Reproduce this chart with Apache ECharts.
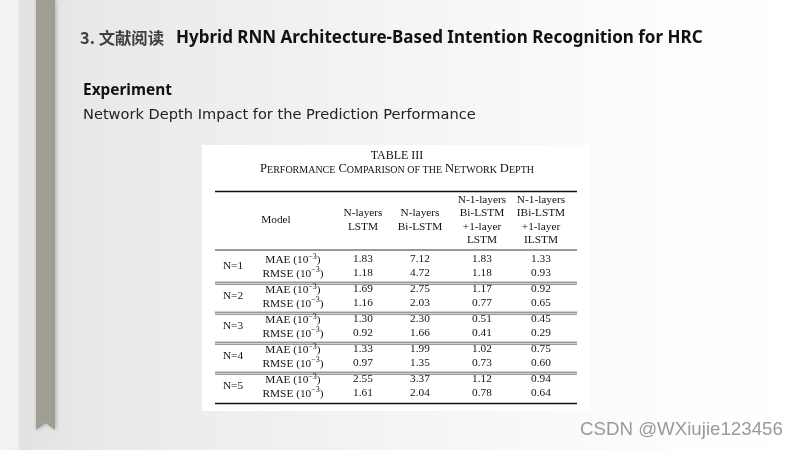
<!DOCTYPE html>
<html>
<head>
<meta charset="utf-8">
<script src="https://cdn.jsdelivr.net/npm/echarts@6/dist/echarts.min.js"></script>
<style>
html,body{margin:0;padding:0;background:#fff;}
#chart{width:800px;height:450px;}
</style>
</head>
<body>
<div id="chart"></div>
<script>
// ---------- data ----------
const groups = ['N=1', 'N=2', 'N=3', 'N=4', 'N=5'];
const metricNames = ['MAE', 'RMSE'];
const modelHeaders = [
  'N-layers\nLSTM',
  'N-layers\nBi-LSTM',
  'N-1-layers\nBi-LSTM\n+1-layer\nLSTM',
  'N-1-layers\nIBi-LSTM\n+1-layer\nILSTM'
];
const maeNLstm        = [1.83, 1.69, 1.30, 1.33, 2.55];
const maeNBiLstm      = [7.12, 2.75, 2.30, 1.99, 3.37];
const maeBiLstmLstm   = [1.83, 1.17, 0.51, 1.02, 1.12];
const maeIBiLstmIlstm = [1.33, 0.92, 0.45, 0.75, 0.94];
const rmseNLstm        = [1.18, 1.16, 0.92, 0.97, 1.61];
const rmseNBiLstm      = [4.72, 2.03, 1.66, 1.35, 2.04];
const rmseBiLstmLstm   = [1.18, 0.77, 0.41, 0.73, 0.78];
const rmseIBiLstmIlstm = [0.93, 0.65, 0.29, 0.60, 0.64];

const slideTitleNum = '3. 文献阅读';
const slideTitle = 'Hybrid RNN Architecture-Based Intention Recognition for HRC';
const sectionTitle = 'Experiment';
const sectionSub = 'Network Depth Impact for the Prediction Performance';
const tableNo = 'TABLE III';
const watermark = 'CSDN @WXiujie123456';

// ---------- layout (table units) ----------
const TW = 362, TH = 212;
const colGroup = 18, colMetric = 78, colModel = 61;
const colValues = [148, 205, 267, 326];
const headerCenter = 29, headerRule = 58.5;
const rowFirst = 68.5, rowStep = 13.2, groupStep = 30;
const FS = 11.3;

const maeCols = [maeNLstm, maeNBiLstm, maeBiLstmLstm, maeIBiLstmIlstm];
const rmseCols = [rmseNLstm, rmseNBiLstm, rmseBiLstmLstm, rmseIBiLstmIlstm];

const SERIF = '"Liberation Serif", "Times New Roman", serif';
const cells = [];
cells.push({x: colModel, y: headerCenter, text: 'Model'});
modelHeaders.forEach((h, i) => cells.push({x: colValues[i], y: headerCenter, text: h, lh: 13.5}));
groups.forEach((g, gi) => {
  const y0 = rowFirst + gi * groupStep;
  cells.push({x: colGroup, y: y0 + rowStep / 2, text: g});
  metricNames.forEach((m, mi) => {
    const y = y0 + mi * rowStep;
    cells.push({x: colMetric, y: y, text: '{n|' + m + ' (10}{sup|\u22123}{n|)}', rich: true});
    const cols = mi === 0 ? maeCols : rmseCols;
    cols.forEach((c, ci) => cells.push({x: colValues[ci], y: y, text: c[gi].toFixed(2)}));
  });
});

const rules = [{y: 0, w: 1.7, c: '#111'}, {y: headerRule, w: 1, c: '#333'}];
for (let gi = 0; gi < groups.length - 1; gi++) {
  const yb = rowFirst + gi * groupStep + rowStep + 9;
  rules.push({y: yb, w: 0.8, c: '#444'});
  rules.push({y: yb + 2, w: 0.8, c: '#444'});
}
rules.push({y: TH, w: 1.7, c: '#111'});

// ---------- font fitting ----------
const cv = document.createElement('canvas').getContext('2d');
function fit(text, weight, family, target) {
  cv.font = weight + ' 100px ' + family;
  return 100 * target / cv.measureText(text).width;
}
const SANS = '"Noto Sans", "Open Sans", sans-serif';
const CJK = '"Noto Sans CJK SC", sans-serif';
const fsTitleNum = fit(slideTitleNum, 'bold', CJK, 84);
const fsTitle = fit(slideTitle, 'bold', SANS, 527);
const fsSection = fit(sectionTitle, 'bold', SANS, 89);
const fsSub = fit(sectionSub, 'normal', '"DejaVu Sans"', 393);
const fsWm = fit(watermark, 'normal', '"Liberation Sans"', 203);

const chart = echarts.init(document.getElementById('chart'), null, {renderer: 'canvas'});

chart.setOption({
  animation: false,
  graphic: [
    {type: 'rect', z: -10, shape: {x: 0, y: 0, width: 800, height: 450},
      style: {fill: new echarts.graphic.LinearGradient(0, 0, 1, 0, [
        {offset: 0, color: '#f4f4f4'}, {offset: 0.022, color: '#f1f1f1'},
        {offset: 0.025, color: '#e2e2e2'}, {offset: 0.12, color: '#e9e9e9'},
        {offset: 0.45, color: '#f3f3f3'}, {offset: 0.8, color: '#fcfcfc'},
        {offset: 1, color: '#ffffff'}])}},
    {type: 'polygon', z: -9, shape: {points: [[36, 0], [55, 0], [55, 430], [45.5, 423], [36, 430]]},
      style: {fill: '#a09d92', shadowBlur: 4, shadowColor: 'rgba(0,0,0,0.25)', shadowOffsetX: 1}},
    {type: 'rect', z: -8, shape: {x: 202, y: 145, width: 388, height: 266}, style: {fill: '#ffffff'}},
    {type: 'text', z: 5, x: 80, y: 38, style: {text: slideTitleNum, fontFamily: CJK, fontWeight: 'bold',
      fontSize: fsTitleNum, fill: '#404040', verticalAlign: 'middle'}},
    {type: 'text', z: 5, x: 176, y: 38, style: {text: slideTitle, fontFamily: SANS, fontWeight: 'bold',
      fontSize: fsTitle, fill: '#111', verticalAlign: 'middle'}},
    {type: 'text', z: 5, x: 83, y: 91, style: {text: sectionTitle, fontFamily: SANS, fontWeight: 'bold',
      fontSize: fsSection, fill: '#111', verticalAlign: 'middle'}},
    {type: 'text', z: 5, x: 83, y: 115, style: {text: sectionSub, fontFamily: '"DejaVu Sans"',
      fontSize: fsSub, fill: '#222', verticalAlign: 'middle'}},
    {type: 'text', z: 5, x: 397, y: 156, style: {text: tableNo, fontFamily: SERIF, fontSize: 12,
      fill: '#111', align: 'center', verticalAlign: 'middle'}},
    {type: 'text', z: 5, x: 397, y: 169, style: {
      text: '{b|P}{s|ERFORMANCE} {b|C}{s|OMPARISON OF THE} {b|N}{s|ETWORK} {b|D}{s|EPTH}',
      fontFamily: SERIF, fill: '#111', align: 'center', verticalAlign: 'middle',
      rich: {b: {fontSize: 12.6, fontFamily: SERIF, verticalAlign: 'bottom', lineHeight: 13, fill: '#111'},
             s: {fontSize: 10, fontFamily: SERIF, verticalAlign: 'bottom', lineHeight: 13, fill: '#111'}}}},
    {type: 'text', z: 5, x: 580, y: 430, style: {text: watermark, fontFamily: '"Liberation Sans"',
      fontSize: fsWm, fill: '#9a9a9a', verticalAlign: 'middle'}}
  ],
  grid: {left: 215, top: 191.5, width: TW, height: TH},
  xAxis: {type: 'value', min: 0, max: TW, show: false},
  yAxis: {type: 'value', min: 0, max: TH, inverse: true, show: false},
  series: [
    {
      type: 'custom',
      data: rules.map(r => [r.y]),
      renderItem: function (params, api) {
        const r = rules[params.dataIndex];
        const a = api.coord([0, api.value(0)]);
        const b = api.coord([TW, api.value(0)]);
        return {type: 'line', shape: {x1: a[0], y1: a[1], x2: b[0], y2: b[1]},
          style: {stroke: r.c, lineWidth: r.w}};
      }
    },
    {
      type: 'custom',
      data: cells.map(c => [c.x, c.y]),
      renderItem: function (params, api) {
        const c = cells[params.dataIndex];
        const p = api.coord([api.value(0), api.value(1)]);
        const style = {text: c.text, fontFamily: SERIF, fontSize: FS, fill: '#111',
          align: 'center', verticalAlign: 'middle', lineHeight: c.lh || 13};
        if (c.rich) {
          style.rich = {
            n: {fontFamily: SERIF, fontSize: FS, verticalAlign: 'bottom', lineHeight: 13, fill: '#111'},
            sup: {fontFamily: SERIF, fontSize: 8, verticalAlign: 'top', lineHeight: 13, fill: '#111'}
          };
        }
        return {type: 'text', x: p[0], y: p[1] - 0.5, style: style};
      }
    }
  ]
});
</script>
</body>
</html>
